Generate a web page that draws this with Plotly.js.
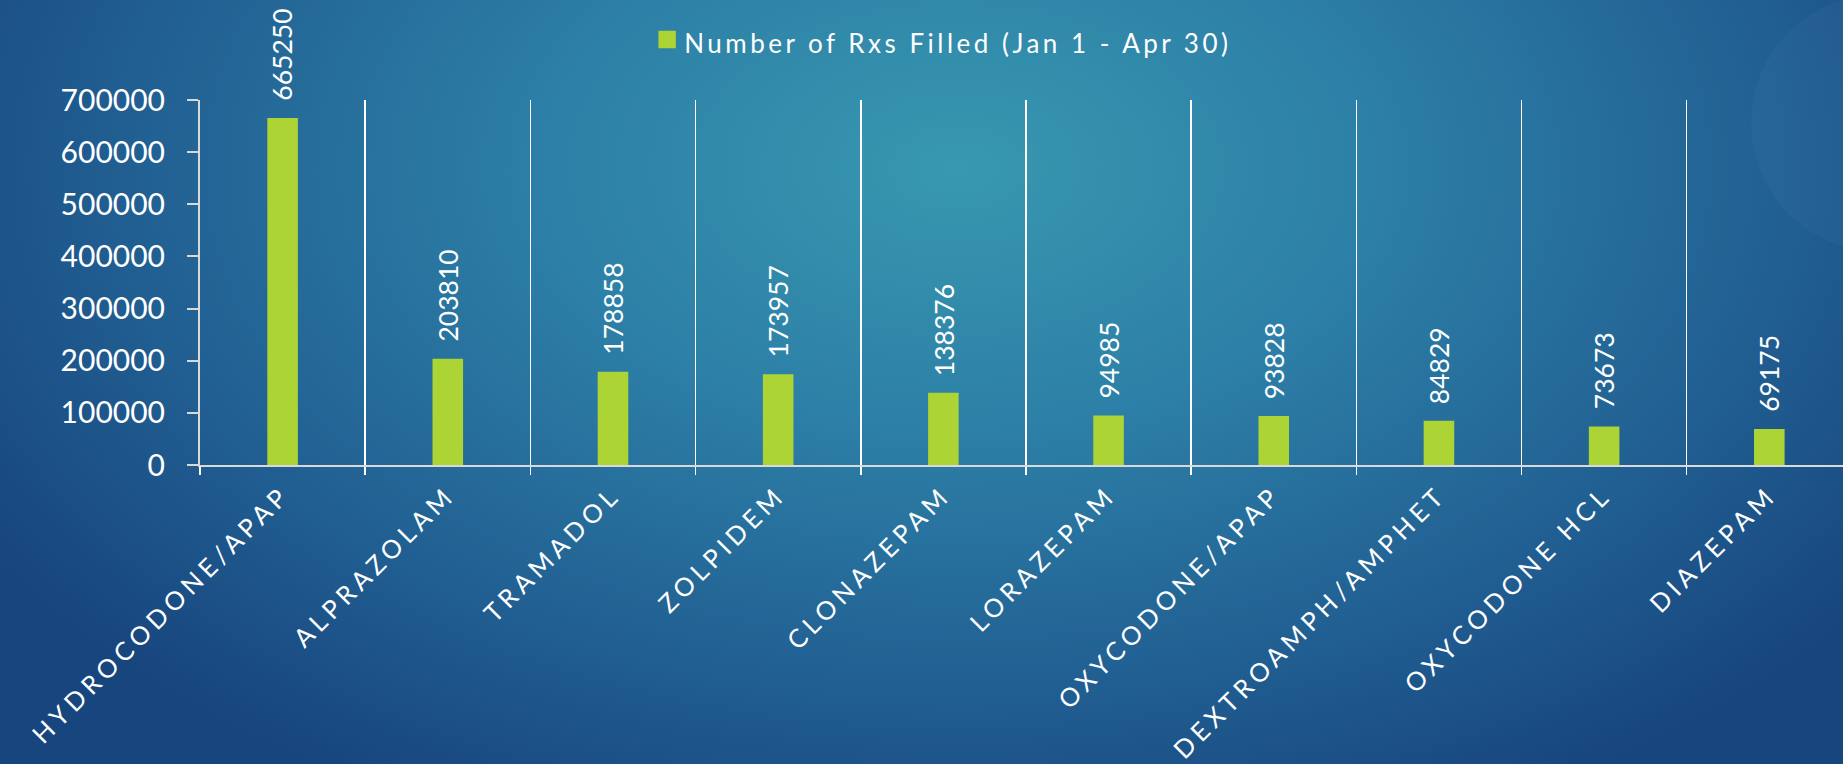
<!DOCTYPE html>
<html>
<head>
<meta charset="utf-8">
<script src="https://cdn.plot.ly/plotly-3.0.1.min.js"></script>
<style>
  html, body { margin: 0; padding: 0; width: 1843px; height: 764px; overflow: hidden; }
  body {
    background: radial-gradient(ellipse 1150px 720px at 52% 22%, #3898b0 0%, #2c7ea6 38%, #215f92 72%, #17457d 100%);
    position: relative;
  }
  #deco {
    position: absolute; left: 1751px; top: -6px; width: 258px; height: 258px;
    border-radius: 50%; background: rgba(120, 170, 220, 0.06); z-index: 0;
  }
  #chart { position: absolute; left: 0; top: 0; z-index: 1; }
  g.xtick text { letter-spacing: 4.7px; }
  text.legendtext { letter-spacing: 3.5px; }
  #chart .legendpoints path {
    transform-box: fill-box; transform-origin: center;
    transform: translate(23px, -3px) scale(1.45);
  }
</style>
</head>
<body>
<div id="deco"></div>
<div id="chart"></div>
<script>
// ---- data ----
const drugs = [
  "HYDROCODONE/APAP", "ALPRAZOLAM", "TRAMADOL", "ZOLPIDEM", "CLONAZEPAM",
  "LORAZEPAM", "OXYCODONE/APAP", "DEXTROAMPH/AMPHET", "OXYCODONE HCL", "DIAZEPAM"
];
const rxsFilled = [665250, 203810, 178858, 173957, 138376, 94985, 93828, 84829, 73673, 69175];
const seriesName = "Number of Rxs Filled (Jan 1 - Apr 30)";
const yTickValues = [0, 100000, 200000, 300000, 400000, 500000, 600000, 700000];

const FONT = "Lato, 'Open Sans', sans-serif";

const trace = {
  type: "bar",
  x: drugs,
  y: rxsFilled,
  name: seriesName,
  marker: { color: "#acd434" },
  showlegend: true,
  hoverinfo: "x+y"
};

const annotations = drugs.map((d, i) => ({
  x: d,
  y: rxsFilled[i],
  xref: "x",
  yref: "y",
  text: String(rxsFilled[i]),
  showarrow: false,
  textangle: -90,
  xanchor: "center",
  yanchor: "bottom",
  yshift: 15,
  font: { family: FONT, size: 26.5, color: "#ffffff" }
}));

const layout = {
  width: 1843,
  height: 764,
  margin: { l: 200, r: 0, t: 100, b: 299, pad: 0 },
  paper_bgcolor: "rgba(0,0,0,0)",
  plot_bgcolor: "rgba(0,0,0,0)",
  bargap: 0.815,
  font: { family: FONT, color: "#ffffff" },
  showlegend: true,
  legend: {
    orientation: "h",
    xref: "container",
    yref: "container",
    x: 0.3495,
    xanchor: "left",
    y: 0.975,
    yanchor: "top",
    font: { family: FONT, size: 26, color: "#ffffff" },
    bgcolor: "rgba(0,0,0,0)"
  },
  xaxis: {
    type: "category",
    range: [-0.5, 9.446],
    tickson: "boundaries",
    showgrid: true,
    gridcolor: "#ffffff",
    gridwidth: 1.5,
    ticks: "outside",
    ticklen: 8,
    tickwidth: 1.5,
    tickcolor: "#ffffff",
    tickangle: -45,
    ticklabelstandoff: 3,
    tickfont: { family: FONT, size: 25.5, color: "#ffffff" },
    showline: true,
    linecolor: "#d9d9d9",
    linewidth: 2,
    zeroline: false,
    automargin: false,
    fixedrange: true
  },
  yaxis: {
    range: [0, 700000],
    tickvals: yTickValues,
    tickformat: "d",
    showgrid: false,
    zeroline: false,
    showline: true,
    linecolor: "#d9d9d9",
    linewidth: 2,
    ticks: "outside",
    ticklen: 11,
    tickwidth: 2,
    tickcolor: "#d9d9d9",
    ticklabelstandoff: 16,
    tickfont: { family: FONT, size: 30, color: "#ffffff" },
    automargin: false,
    fixedrange: true
  },
  annotations: annotations
};

Plotly.newPlot("chart", [trace], layout, { displayModeBar: false, staticPlot: true });
</script>
</body>
</html>
